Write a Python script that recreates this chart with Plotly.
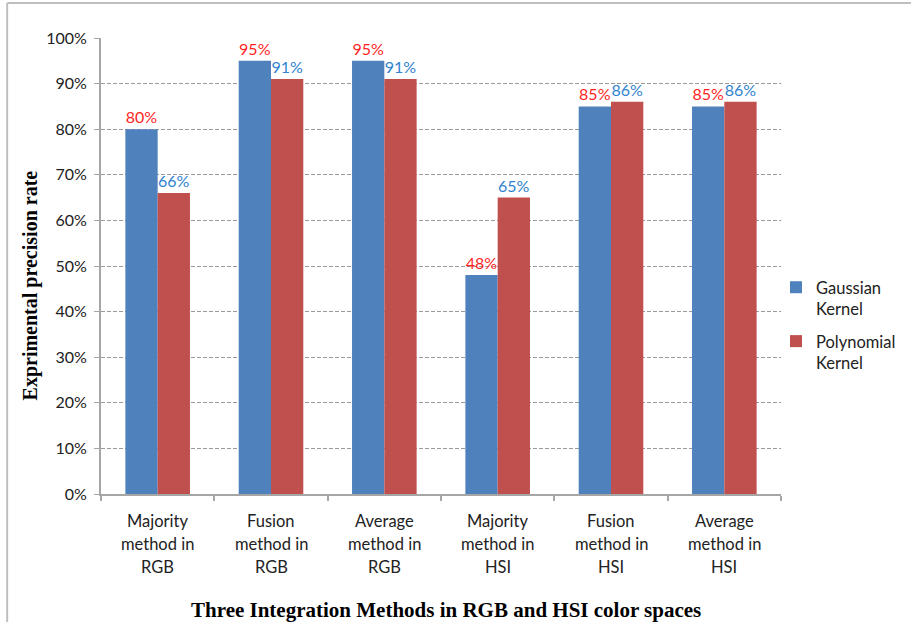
import plotly.graph_objects as go

# Integration methods evaluated, one per group of bars
categories = [
    "Majority method in RGB",
    "Fusion method in RGB",
    "Average method in RGB",
    "Majority method in HSI",
    "Fusion method in HSI",
    "Average method in HSI",
]
category_lines = [
    ["Majority", "method in", "RGB"],
    ["Fusion", "method in", "RGB"],
    ["Average", "method in", "RGB"],
    ["Majority", "method in", "HSI"],
    ["Fusion", "method in", "HSI"],
    ["Average", "method in", "HSI"],
]

# Precision rates (%) for each SVM kernel
gaussian = [80, 95, 95, 48, 85, 85]
polynomial = [66, 91, 91, 65, 86, 86]

y_ticks = [0, 10, 20, 30, 40, 50, 60, 70, 80, 90, 100]
y_tick_text = [f"{v}%" for v in y_ticks]

xpos = list(range(len(categories)))

SANS = "Lato, 'Open Sans', sans-serif"
SERIF = "'Liberation Serif', 'Times New Roman', serif"
AXIS_GREY = "#A6A6A6"

fig = go.Figure()
fig.add_trace(go.Bar(
    x=xpos, y=gaussian, name="Gaussian<br>Kernel", legendgroup="g",
    marker=dict(color="#4F81BD", line=dict(width=0)),
    text=[f"{v}%" for v in gaussian], textposition="outside",
    textfont=dict(family=SANS, size=16, color="#FF1F1F"),
    cliponaxis=False,
))
fig.add_trace(go.Bar(
    x=xpos, y=polynomial, name="Polynomial<br>Kernel", legendgroup="p",
    marker=dict(color="#C0504D", line=dict(width=0)),
    text=[f"{v}%" for v in polynomial], textposition="outside",
    textfont=dict(family=SANS, size=16, color="#2F83CF"),
    cliponaxis=False,
))

annotations = []
for i, lines in enumerate(category_lines):
    for j, line in enumerate(lines):
        annotations.append(dict(
            x=i, y=0, xref="x", yref="paper", text=line, showarrow=False,
            yshift=-27 - 23 * j, yanchor="middle", xanchor="center",
            font=dict(family=SANS, size=16.5, color="#222222"),
        ))
annotations.append(dict(
    x=-0.104, y=0.458, xref="paper", yref="paper",
    text="<b>Exprimental precision rate</b>", textangle=-90, showarrow=False,
    xanchor="center", yanchor="middle",
    font=dict(family=SERIF, size=20, color="#000000"),
))
annotations.append(dict(
    x=0.507, y=-0.254, xref="paper", yref="paper",
    text="<b>Three Integration Methods in RGB and HSI color spaces</b>",
    showarrow=False, xanchor="center", yanchor="middle",
    font=dict(family=SERIF, size=21, color="#000000"),
))

fig.update_layout(
    width=911, height=622,
    margin=dict(l=101, r=130, t=38, b=128, autoexpand=False),
    paper_bgcolor="white", plot_bgcolor="white",
    barmode="group", bargap=0.43, bargroupgap=0,
    showlegend=True,
    legend=dict(
        xref="container", yref="container",
        x=776 / 911, y=1 - 270 / 622, xanchor="left", yanchor="top",
        font=dict(family=SANS, size=16.5, color="#222222"),
        bgcolor="rgba(0,0,0,0)", itemwidth=30, tracegroupgap=8,
        valign="top",
    ),
    annotations=annotations,
    shapes=[
        dict(type="line", xref="paper", yref="paper",
             x0=-0.138, x1=1.25, y0=1.0768, y1=1.0768,
             line=dict(color="#BFBFBF", width=2)),
        dict(type="line", xref="paper", yref="paper",
             x0=-0.138, x1=-0.138, y0=1.0768, y1=-0.4,
             line=dict(color="#BFBFBF", width=2)),
    ],
)

fig.update_xaxes(
    range=[-0.5, len(categories) - 0.5],
    tickvals=[i - 0.5 for i in range(len(categories) + 1)],
    showticklabels=False, ticks="outside", ticklen=5, tickcolor=AXIS_GREY,
    tickwidth=2,
    showline=True, linecolor=AXIS_GREY, linewidth=2, showgrid=False,
    zeroline=False,
)
fig.update_yaxes(
    range=[0, 100], tickvals=y_ticks, ticktext=y_tick_text,
    ticks="outside", ticklen=5, tickcolor=AXIS_GREY, tickwidth=1,
    showline=True, linecolor=AXIS_GREY, linewidth=2,
    showgrid=True, gridcolor="#9A9A9A", griddash="4px,2px", gridwidth=1,
    zeroline=False, ticklabelstandoff=4,
    tickfont=dict(family=SANS, size=16, color="#222222"),
)

fig.write_html("out.html")
